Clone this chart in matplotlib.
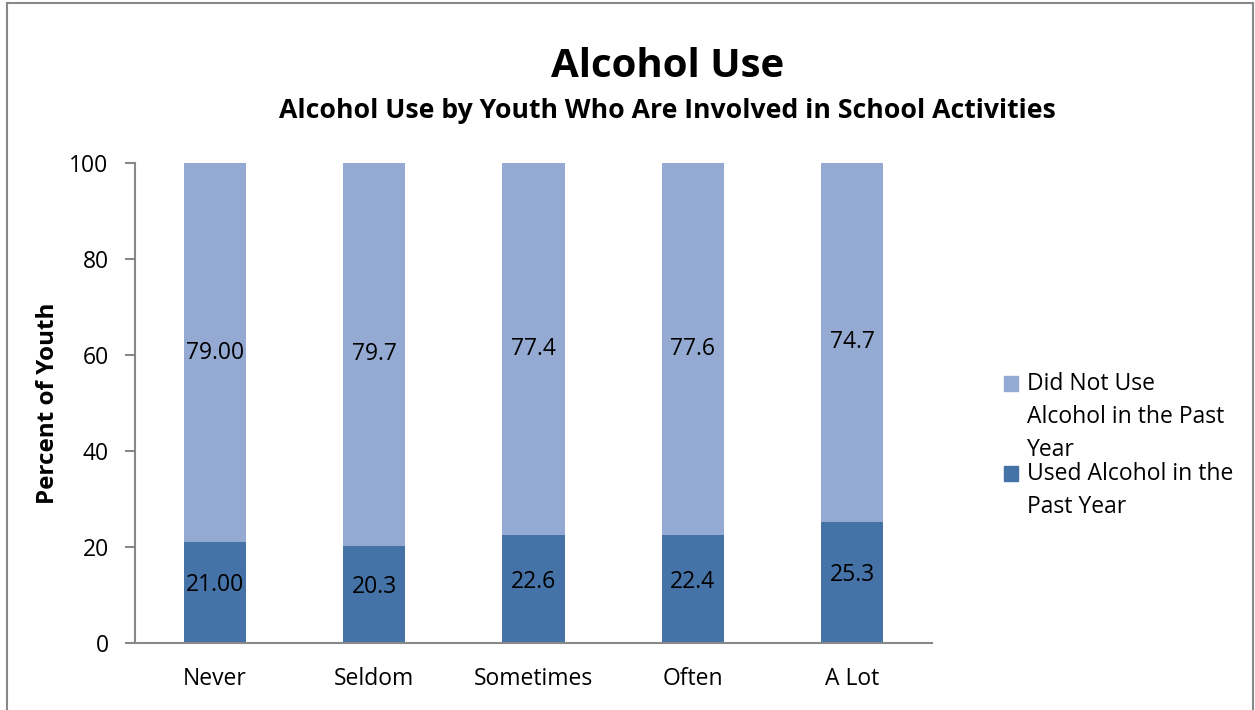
import numpy as np
from matplotlib import pyplot as plt
from matplotlib.patches import Rectangle

categories = ['Never', 'Seldom', 'Sometimes', 'Often', 'A Lot']
used = [21.00, 20.3, 22.6, 22.4, 25.3]
notUsed = [79.00, 79.7, 77.4, 77.6, 74.7]
usedLabels = ['21.00', '20.3', '22.6', '22.4', '25.3']
notUsedLabels = ['79.00', '79.7', '77.4', '77.6', '74.7']
legendNotUsed = ['Did Not Use', 'Alcohol in the Past', 'Year']
legendUsed = ['Used Alcohol in the', 'Past Year']

plt.rcParams['font.family'] = ['Open Sans', 'DejaVu Sans']

fig = plt.figure(figsize=(12.55, 7.10), dpi=100)
ax = fig.add_axes([0.1076, 0.0944, 0.635, 0.676])

x = np.arange(len(categories))
width = 0.39
darkColor = '#4572A7'
lightColor = '#95AAD2'
ax.bar(x, used, width, color=darkColor)
ax.bar(x, notUsed, width, bottom=used, color=lightColor)

for i in range(len(categories)):
    ax.text(x[i], used[i] / 2 + 1.5, usedLabels[i], ha='center', va='center', fontsize=16.5)
    ax.text(x[i], used[i] + notUsed[i] / 2, notUsedLabels[i], ha='center', va='center', fontsize=16.5)

ax.set_xlim(-0.5, len(categories) - 0.5)
ax.set_ylim(0, 100)
ax.set_yticks([0, 20, 40, 60, 80, 100])
ax.set_xticks(x)
ax.set_xticklabels(categories)
ax.tick_params(axis='x', length=0, labelsize=16.5, pad=17)
ax.tick_params(axis='y', length=7, width=1.5, color='#888888', labelsize=16.5, pad=12)
for side in ['top', 'right']:
    ax.spines[side].set_visible(False)
for side in ['left', 'bottom']:
    ax.spines[side].set_color('#888888')
    ax.spines[side].set_linewidth(1.5)
ax.set_ylabel('Percent of Youth', fontsize=17.5, fontweight='bold', labelpad=7)

# legend drawn by hand so the swatch sits on the first line, like the original
def legendEntry(lines, color, yTop):
    swatch = Rectangle((1004 / 1255, 1 - (yTop + 7) / 710), 14 / 1255, 15 / 710,
                       transform=fig.transFigure, color=color)
    fig.patches.append(swatch)
    for k, line in enumerate(lines):
        fig.text(1027 / 1255, 1 - (yTop + 33 * k) / 710, line, ha='left', va='center', fontsize=16.5)

legendEntry(legendNotUsed, lightColor, 384)
legendEntry(legendUsed, darkColor, 474)

fig.text(0.532, 0.8915, 'Alcohol Use', ha='center', va='baseline', fontsize=29, fontweight='bold')
fig.text(0.532, 0.8338, 'Alcohol Use by Youth Who Are Involved in School Activities',
         ha='center', va='baseline', fontsize=19.2, fontweight='bold')

fig.patches.append(Rectangle((0.0056, -0.05), 0.9928, 1.046, transform=fig.transFigure,
                             fill=False, edgecolor='#888888', linewidth=1.5))

plt.savefig('out.png')
